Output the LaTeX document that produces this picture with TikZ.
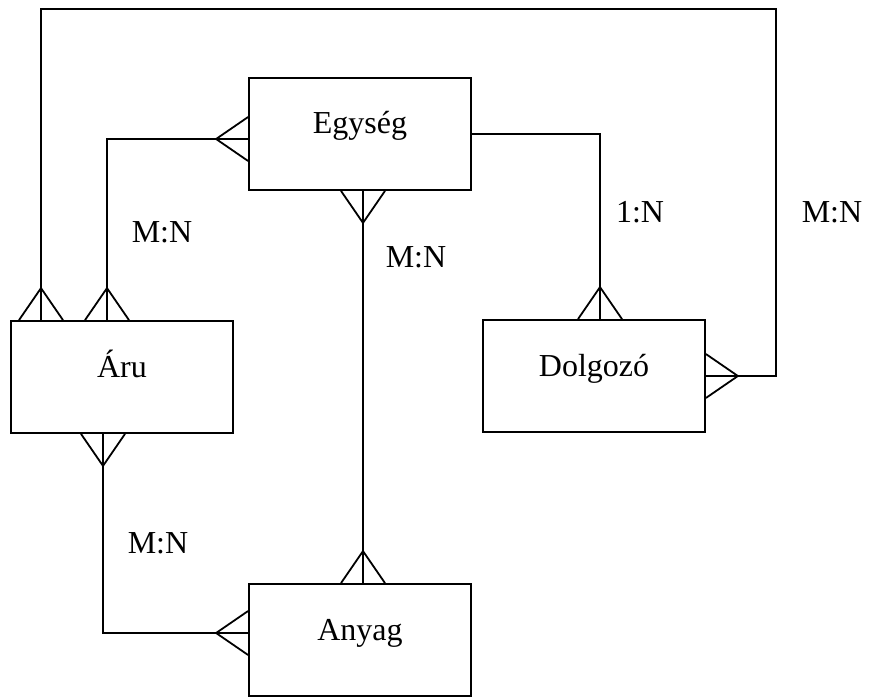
\documentclass[tikz,border=0pt]{standalone}
\usepackage{fontspec}
\setmainfont{Liberation Serif}
\begin{document}
\begin{tikzpicture}[
        x=1pt, y=-1pt,
        line width=1.8pt,
        font=\fontsize{32}{38}\selectfont,
        entity/.style={
            rectangle,
            draw=black,
            minimum width=222pt,
            minimum height=112pt,
            inner sep=0pt,
            text height=0pt,
            text depth=0pt
        },
        ratio/.style={inner sep=0pt},
        crow/.pic={
            \draw (0,-22) -- (32,0) -- (0,22);
        }
    ]
    \useasboundingbox (0,0) rectangle (872,698);

    % Nodes
    \node (egyseg) [entity] at (360,134) {Egység};

    \node (aru) [entity] at (122,377) {Áru};

    \node (dolgozo) [entity] at (594,376) {Dolgozó};

    \node (anyag) [entity] at (360,640) {Anyag};

    \coordinate (loop) at (776,9);

    % Labels
    \node (mnaruegy) [ratio] at (162,232) {M:N};
    \node (mnegyany) [ratio] at (416,257) {M:N};
    \node (onegydol) [ratio] at (640,212) {1:N};
    \node (mnarudol) [ratio] at (832,212) {M:N};
    \node (mnaruany) [ratio] at (158,543) {M:N};

    % Connectors
    \draw ([xshift=-81pt]aru.north) |- (loop) |- (dolgozo.east);
    \draw ([xshift=-15pt]aru.north) |- ([yshift=-5pt]egyseg.west);
    \draw (egyseg.east) -| ([xshift=6pt]dolgozo.north);
    \draw ([xshift=3pt]egyseg.south) -- ([xshift=3pt]anyag.north);
    \draw ([xshift=-19pt]aru.south) |- ([yshift=7pt]anyag.west);

    % Crow's feet
    \pic[rotate=90] at ([xshift=-81pt]aru.north) {crow};
    \pic at (dolgozo.east) {crow};
    \pic[rotate=90] at ([xshift=-15pt]aru.north) {crow};
    \pic[rotate=180] at ([yshift=-5pt]egyseg.west) {crow};
    \pic[rotate=90] at ([xshift=6pt]dolgozo.north) {crow};
    \pic[rotate=-90] at ([xshift=3pt]egyseg.south) {crow};
    \pic[rotate=90] at ([xshift=3pt]anyag.north) {crow};
    \pic[rotate=-90] at ([xshift=-19pt]aru.south) {crow};
    \pic[rotate=180] at ([yshift=7pt]anyag.west) {crow};

\end{tikzpicture}
\end{document}
